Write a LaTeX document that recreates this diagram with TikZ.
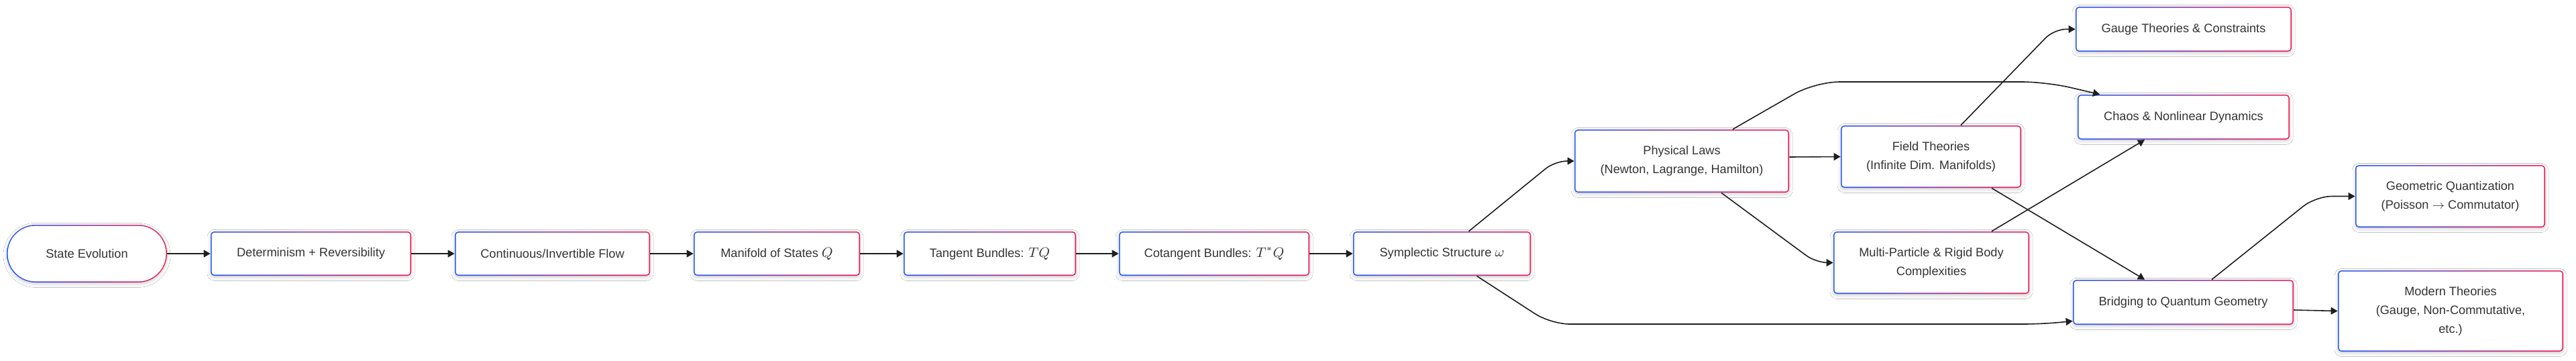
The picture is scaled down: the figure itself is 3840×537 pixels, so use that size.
\documentclass[tikz,border=0pt]{standalone}
\usepackage{fontspec}
\setmainfont{Liberation Sans}
\usetikzlibrary{arrows.meta,calc,shadows.blur}
\definecolor{gblue}{HTML}{2A5CF2}
\definecolor{gred}{HTML}{F0215A}
\definecolor{txt}{HTML}{333333}
\definecolor{edgec}{HTML}{1E1E1E}
\tikzset{
  gshade/.style={left color=gblue, right color=gred, draw=none, inner sep=0pt,
    blur shadow={shadow xshift=0pt, shadow yshift=-1.2pt, shadow blur radius=2.5pt, shadow opacity=18}},
  ginner/.style={fill=white, draw=none, inner sep=0pt, align=center, text=txt,
    font=\fontsize{9.1}{14}\selectfont},
  arr/.style={draw=edgec, line width=0.8pt, -{Triangle[length=5pt,width=5.5pt]}},
}
% #1 name, #2 position, #3 width px, #4 height px, #5 outer radius, #6 inner radius, #7 text
\newcommand\gnode[7]{%
  \node[gshade, minimum width=#3*0.5pt, minimum height=#4*0.5pt, rounded corners=#5] (#1) at #2 {};
  \node[ginner, minimum width=#3*0.5pt-1.6pt, minimum height=#4*0.5pt-1.6pt, rounded corners=#6] (#1-t) at #2 {#7};}
\newcommand\mth[1]{\scalebox{1.15}{$#1$}}
\begin{document}
\begin{tikzpicture}[x=0.5pt,y=-0.5pt]
\useasboundingbox (0,0) rectangle (3840,537);
\fill[white] (0,0) rectangle (3840,537);

\gnode{se}{(129.5,378)}{239}{86}{21.5pt}{20.7pt}{State Evolution}
\gnode{det}{(463.5,378)}{299}{66}{2.6pt}{2pt}{Determinism + Reversibility}
\gnode{cont}{(823.5,378)}{291}{66}{2.6pt}{2pt}{Continuous/Invertible Flow}
\gnode{man}{(1158,378)}{248}{66}{2.6pt}{2pt}{Manifold of States \mth{Q}}
\gnode{tan}{(1475.5,378)}{257}{66}{2.6pt}{2pt}{Tangent Bundles: \mth{TQ}}
\gnode{cot}{(1810,378)}{284}{66}{2.6pt}{2pt}{Cotangent Bundles: \mth{T^*Q}}
\gnode{symp}{(2149.5,378)}{265}{66}{2.6pt}{2pt}{Symplectic Structure \mth{\omega}}
\gnode{phys}{(2507,240)}{320}{94}{2.6pt}{2pt}{Physical Laws\\(Newton, Lagrange, Hamilton)}
\gnode{field}{(2878.5,233.5)}{269}{93}{2.6pt}{2pt}{Field Theories\\(Infinite Dim. Manifolds)}
\gnode{multi}{(2879,391.5)}{292}{93}{2.6pt}{2pt}{Multi-Particle \& Rigid Body\\Complexities}
\gnode{gauge}{(3255,43.5)}{322}{67}{2.6pt}{2pt}{Gauge Theories \& Constraints}
\gnode{chaos}{(3255,174.5)}{316}{67}{2.6pt}{2pt}{Chaos \& Nonlinear Dynamics}
\gnode{bridge}{(3254.5,450.5)}{329}{67}{2.6pt}{2pt}{Bridging to Quantum Geometry}
\gnode{geo}{(3652.5,292.5)}{283}{93}{2.6pt}{2pt}{Geometric Quantization\\(Poisson $\to$ Commutator)}
\gnode{modern}{(3653,463.5)}{336}{121}{2.6pt}{2pt}{Modern Theories\\(Gauge, Non-Commutative,\\etc.)}

\draw[arr] (se) -- (det);
\draw[arr] (det) -- (cont);
\draw[arr] (cont) -- (man);
\draw[arr] (man) -- (tan);
\draw[arr] (tan) -- (cot);
\draw[arr] (cot) -- (symp);
\draw[arr, rounded corners=9pt] ($(symp.north)+(40,0)$) -- (2318,240) -- (phys.west);
\draw[arr, rounded corners=14pt] ($(symp.south)+(52,0)$) -- (2312,483) -- (3045,483) -- ($(bridge.west)+(0,28)$);
\draw[arr] ($(phys.east)+(0,-6)$) -- (field.west);
\draw[arr, rounded corners=9pt] ($(phys.south)+(59,0)$) -- (2707,391.5) -- (multi.west);
\draw[arr, rounded corners=18pt] ($(phys.north)+(76,0)$) -- (2706,122) -- (3050,122) -- ($(chaos.north)+(-125,0)$);
\draw[arr, rounded corners=9pt] ($(field.north)+(44.5,0)$) -- (3062,43.5) -- (gauge.west);
\draw[arr] ($(field.south)+(90.5,0)$) -- ($(bridge.north)+(-57.5,0)$);
\draw[arr] ($(multi.north)+(90,0)$) -- ($(chaos.south)+(-58,0)$);
\draw[arr, rounded corners=12pt] ($(bridge.north)+(42.5,0)$) -- (3452,292.5) -- (geo.west);
\draw[arr] ($(bridge.east)+(0,11.5)$) -- (modern.west);
\end{tikzpicture}
\end{document}
